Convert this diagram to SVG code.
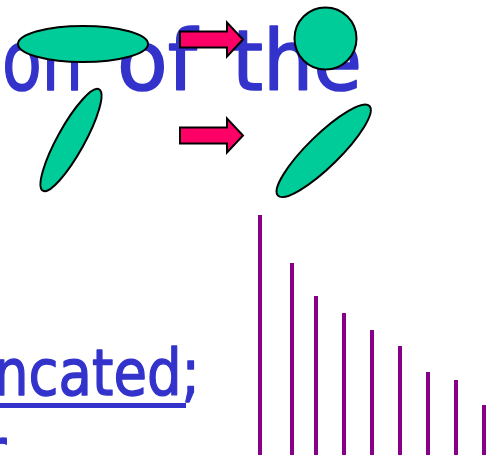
<svg xmlns="http://www.w3.org/2000/svg" width="492" height="458" viewBox="0 0 492 458">
  <style>
    .txt { font-family: "DejaVu Sans", "Liberation Sans", sans-serif; fill: #3333CC; stroke: #3333CC; stroke-linejoin: round; stroke-linecap: round; }
    .big { font-size: 84px; stroke-width: 1.6; }
    .mid { font-size: 64px; stroke-width: 1.4; }
    .blob { fill: #00CC99; stroke: #000000; stroke-width: 2; }
    .arrow { fill: #FF0066; stroke: #000000; stroke-width: 2; stroke-linejoin: miter; }
    .bar { fill: #880088; }
  </style>
  <defs>
    <polygon id="arrow-shape" points="0,-8 47,-8 47,-17 63,0 47,17 47,8 0,8"/>
  </defs>

  <!-- heading words -->
  <g id="heading">
    <text class="txt big" x="2" y="90" textLength="81" lengthAdjust="spacingAndGlyphs">on</text>
    <text class="txt big" x="117" y="90" textLength="80" lengthAdjust="spacingAndGlyphs">of</text>
    <text class="txt big" x="232" y="90" textLength="130" lengthAdjust="spacingAndGlyphs">the</text>
  </g>

  <!-- second text line, underlined -->
  <g id="truncated-line">
    <text class="txt mid" x="-6" y="395" textLength="206" lengthAdjust="spacingAndGlyphs">ncated;</text>
    <rect x="0" y="403" width="186" height="5" fill="#3333CC"/>
  </g>

  <!-- start of the following line -->
  <g id="next-line">
    <text class="txt mid" x="-20" y="474">r</text>
  </g>

  <!-- shapes before the change -->
  <g id="flat-ellipse">
    <ellipse class="blob" cx="83" cy="44" rx="65" ry="18"/>
  </g>
  <g id="tilted-ellipse-left">
    <ellipse class="blob" cx="71" cy="140" rx="58" ry="13.5" transform="rotate(-61 71 140)"/>
  </g>

  <!-- arrows -->
  <g id="arrow-top">
    <use href="#arrow-shape" class="arrow" transform="translate(180 39.5)"/>
  </g>
  <g id="arrow-bottom">
    <use href="#arrow-shape" class="arrow" transform="translate(180 135.5)"/>
  </g>

  <!-- shapes after the change -->
  <g id="circle">
    <circle class="blob" cx="325.5" cy="38.5" r="31"/>
  </g>
  <g id="tilted-ellipse-right">
    <ellipse class="blob" cx="323.7" cy="150.8" rx="64" ry="16" transform="rotate(-44.4 323.7 150.8)"/>
  </g>

  <!-- decreasing bar spectrum -->
  <g id="spectrum">
    <rect class="bar" x="258" y="215" width="4" height="240"/>
    <rect class="bar" x="290" y="263" width="4" height="192"/>
    <rect class="bar" x="314" y="296" width="4" height="159"/>
    <rect class="bar" x="342" y="313" width="4" height="142"/>
    <rect class="bar" x="370" y="330" width="4" height="125"/>
    <rect class="bar" x="398" y="346" width="4" height="109"/>
    <rect class="bar" x="426" y="372" width="4" height="83"/>
    <rect class="bar" x="454" y="380" width="4" height="75"/>
    <rect class="bar" x="482" y="405" width="4" height="50"/>
  </g>
</svg>
